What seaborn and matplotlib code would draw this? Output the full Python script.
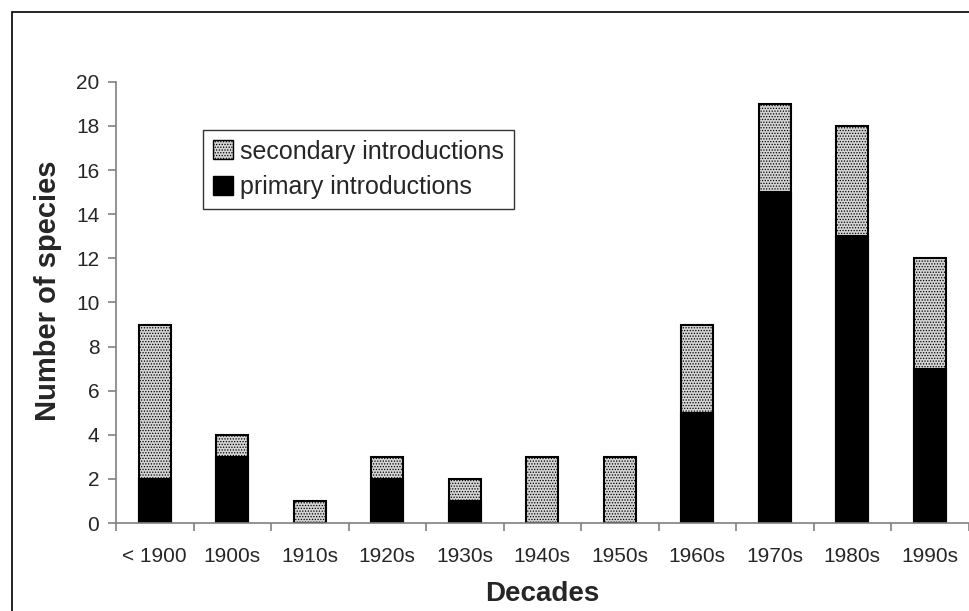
import pandas as pd
import seaborn as sns
import matplotlib.pyplot as plt
from matplotlib.patches import Rectangle, Patch

# Datos
decades = ['< 1900', '1900s', '1910s', '1920s', '1930s', '1940s',
           '1950s', '1960s', '1970s', '1980s', '1990s']
primary = [2, 3, 0, 2, 1, 0, 0, 5, 15, 13, 7]
secondary = [7, 1, 1, 1, 1, 3, 3, 4, 4, 5, 5]

df = pd.DataFrame({'decade': decades, 'primary': primary, 'secondary': secondary})
df['total'] = df['primary'] + df['secondary']

sns.set_style('white')
plt.rcParams['font.family'] = ['Liberation Sans', 'DejaVu Sans']
plt.rcParams['hatch.linewidth'] = 0.6
plt.rcParams['hatch.color'] = '#555555'

fig = plt.figure(figsize=(9.7, 6.11), dpi=100)
ax = fig.add_axes([0.1196, 0.144, 0.879, 0.722])

# marco exterior
fig.patches.append(Rectangle((0.0124, -0.2), 1.2, 1.18, transform=fig.transFigure,
                             fill=False, edgecolor='black', linewidth=1.2))

sec_color = '#d4d4d4'
sns.barplot(data=df, x='decade', y='total', order=decades, color=sec_color,
            width=0.41, edgecolor='black', linewidth=1.5, ax=ax, saturation=1)
for p in ax.patches:
    p.set_hatch('......')
sns.barplot(data=df, x='decade', y='primary', order=decades, color='black',
            width=0.41, edgecolor='black', linewidth=1.5, ax=ax, saturation=1)

ax.set_ylim(0, 20)
ax.set_xlim(-0.5, len(decades) - 0.5)
ax.set_yticks(range(0, 21, 2))
ax.set_xticks([i - 0.5 for i in range(len(decades) + 1)], minor=True)
ax.tick_params(axis='x', which='major', length=0, labelsize=15, pad=17)
ax.tick_params(axis='x', which='minor', length=6, color='#808080', width=1.2,
               direction='out', bottom=True)
ax.tick_params(axis='y', length=6, color='#808080', width=1.2, labelsize=15,
               direction='out', left=True, pad=6)

for s in ['top', 'right']:
    ax.spines[s].set_visible(False)
for s in ['left', 'bottom']:
    ax.spines[s].set_color('#808080')
    ax.spines[s].set_linewidth(1.2)

ax.set_xlabel('Decades', fontsize=20, fontweight='bold', labelpad=11)
ax.set_ylabel('Number of species', fontsize=21, fontweight='bold')
ax.yaxis.set_label_coords(-0.063, 0.526)

handles = [Patch(facecolor=sec_color, edgecolor='black', hatch='......', label='secondary introductions'),
           Patch(facecolor='black', edgecolor='black', label='primary introductions')]
leg = ax.legend(handles=handles, loc='upper left', bbox_to_anchor=(0.102, 0.892),
                fontsize=18, frameon=True, fancybox=False, edgecolor='black',
                handlelength=0.8, handleheight=0.8, handletextpad=0.3,
                borderpad=0.4, labelspacing=0.45, borderaxespad=0)
leg.get_frame().set_linewidth(1.0)

plt.savefig('out.png', dpi=100)
